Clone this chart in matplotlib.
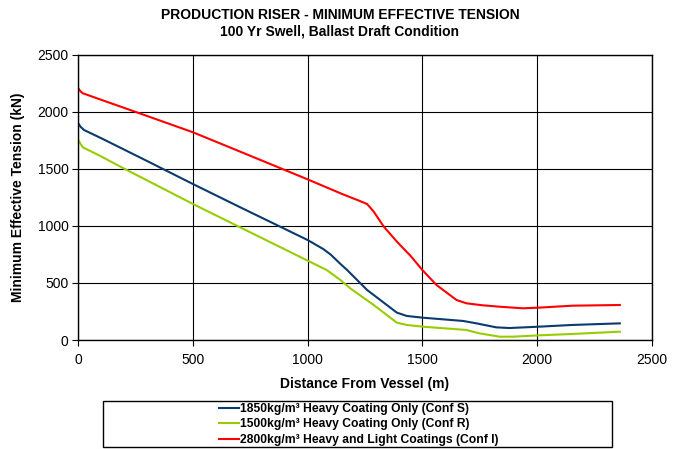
import matplotlib
matplotlib.use("Agg")
import matplotlib.pyplot as plt
from matplotlib.patches import Rectangle

# distance from vessel (m) and minimum effective tension (kN)
conf_s_x = [0, 10, 25, 100, 200, 300, 500, 700, 1000, 1068, 1100, 1143, 1172,
            1259, 1389, 1432, 1500, 1678, 1736, 1822, 1880, 2010, 2154, 2361]
conf_s_y = [1900, 1870, 1842, 1770, 1670, 1570, 1368, 1170, 877, 798, 750, 667, 614,
            439, 240, 211, 196, 167, 146, 111, 105, 117, 132, 146]

conf_r_x = [0, 10, 20, 100, 200, 300, 500, 700, 1000, 1083, 1143, 1186, 1288,
            1389, 1432, 1500, 1692, 1750, 1837, 1895, 2010, 2154, 2361]
conf_r_y = [1754, 1720, 1690, 1610, 1503, 1400, 1193, 994, 696, 614, 526, 453, 307,
            152, 132, 117, 88, 58, 29, 29, 41, 53, 73]

conf_i_x = [0, 10, 20, 100, 200, 300, 500, 700, 1000, 1150, 1228, 1259, 1288,
            1332, 1389, 1450, 1500, 1562, 1649, 1692, 1760, 1837, 1938, 2010, 2154, 2361]
conf_i_y = [2208, 2180, 2164, 2107, 2036, 1965, 1822, 1657, 1409, 1281, 1219, 1193, 1126,
            994, 863, 735, 614, 482, 351, 322, 305, 292, 278, 284, 301, 307]

labels = ["1850kg/m\u00b3 Heavy Coating Only (Conf S)",
          "1500kg/m\u00b3 Heavy Coating Only (Conf R)",
          "2800kg/m\u00b3 Heavy and Light Coatings (Conf I)"]
colors = ["#0a3a6e", "#99cc00", "#ff0000"]

plt.rcParams['font.family'] = ['Liberation Sans', 'DejaVu Sans']

fig = plt.figure(figsize=(6.8, 4.49), dpi=100)
ax = fig.add_axes([78.3 / 680, 1 - 340 / 449, (651.7 - 78.3) / 680, 285 / 449])

series = [(conf_s_x, conf_s_y), (conf_r_x, conf_r_y), (conf_i_x, conf_i_y)]
handles = []
for (xs, ys), lab, col in zip(series, labels, colors):
    h, = ax.plot(xs, ys, color=col, lw=1.5, label=lab)
    handles.append(h)

ax.set_xlim(0, 2500)
ax.set_ylim(0, 2500)
ax.set_xticks(range(0, 2501, 500))
ax.set_yticks(range(0, 2501, 500))
ax.grid(True, color="black", lw=0.8)
ax.set_axisbelow(True)
for sp in ax.spines.values():
    sp.set_color("black")
    sp.set_linewidth(1.0)
ax.tick_params(direction="out", length=4, width=0.8, labelsize=10)
ax.tick_params(axis="x", pad=5)
ax.tick_params(axis="y", pad=3)

ax.set_xlabel("Distance From Vessel (m)", fontsize=10, fontweight="bold")
ax.set_ylabel("Minimum Effective Tension (kN)", fontsize=10, fontweight="bold")
ax.xaxis.set_label_coords(0.5, (340 - 377) / 285)
ax.yaxis.set_label_coords((25 - 78.3) / 573.4, 0.5)

fig.text(340 / 680, 1 - 15 / 449, "PRODUCTION RISER - MINIMUM EFFECTIVE TENSION",
         ha="center", va="center", fontsize=10, fontweight="bold")
fig.text(340 / 680, 1 - 32 / 449, "100 Yr Swell, Ballast Draft Condition",
         ha="center", va="center", fontsize=10, fontweight="bold")

# legend box
fig.patches.append(Rectangle((103 / 680, 1 - 447 / 449), (612 - 103) / 680, 46 / 449,
                             transform=fig.transFigure, fill=False,
                             edgecolor="black", lw=1.0))
fig.legend(handles=handles, loc="center", bbox_to_anchor=(359 / 680, 1 - 424.5 / 449),
           frameon=False, prop={"weight": "bold", "size": 8.7},
           handlelength=1.6, handletextpad=0.15, labelspacing=0.28, borderpad=0)

fig.savefig("out.png", dpi=100)
